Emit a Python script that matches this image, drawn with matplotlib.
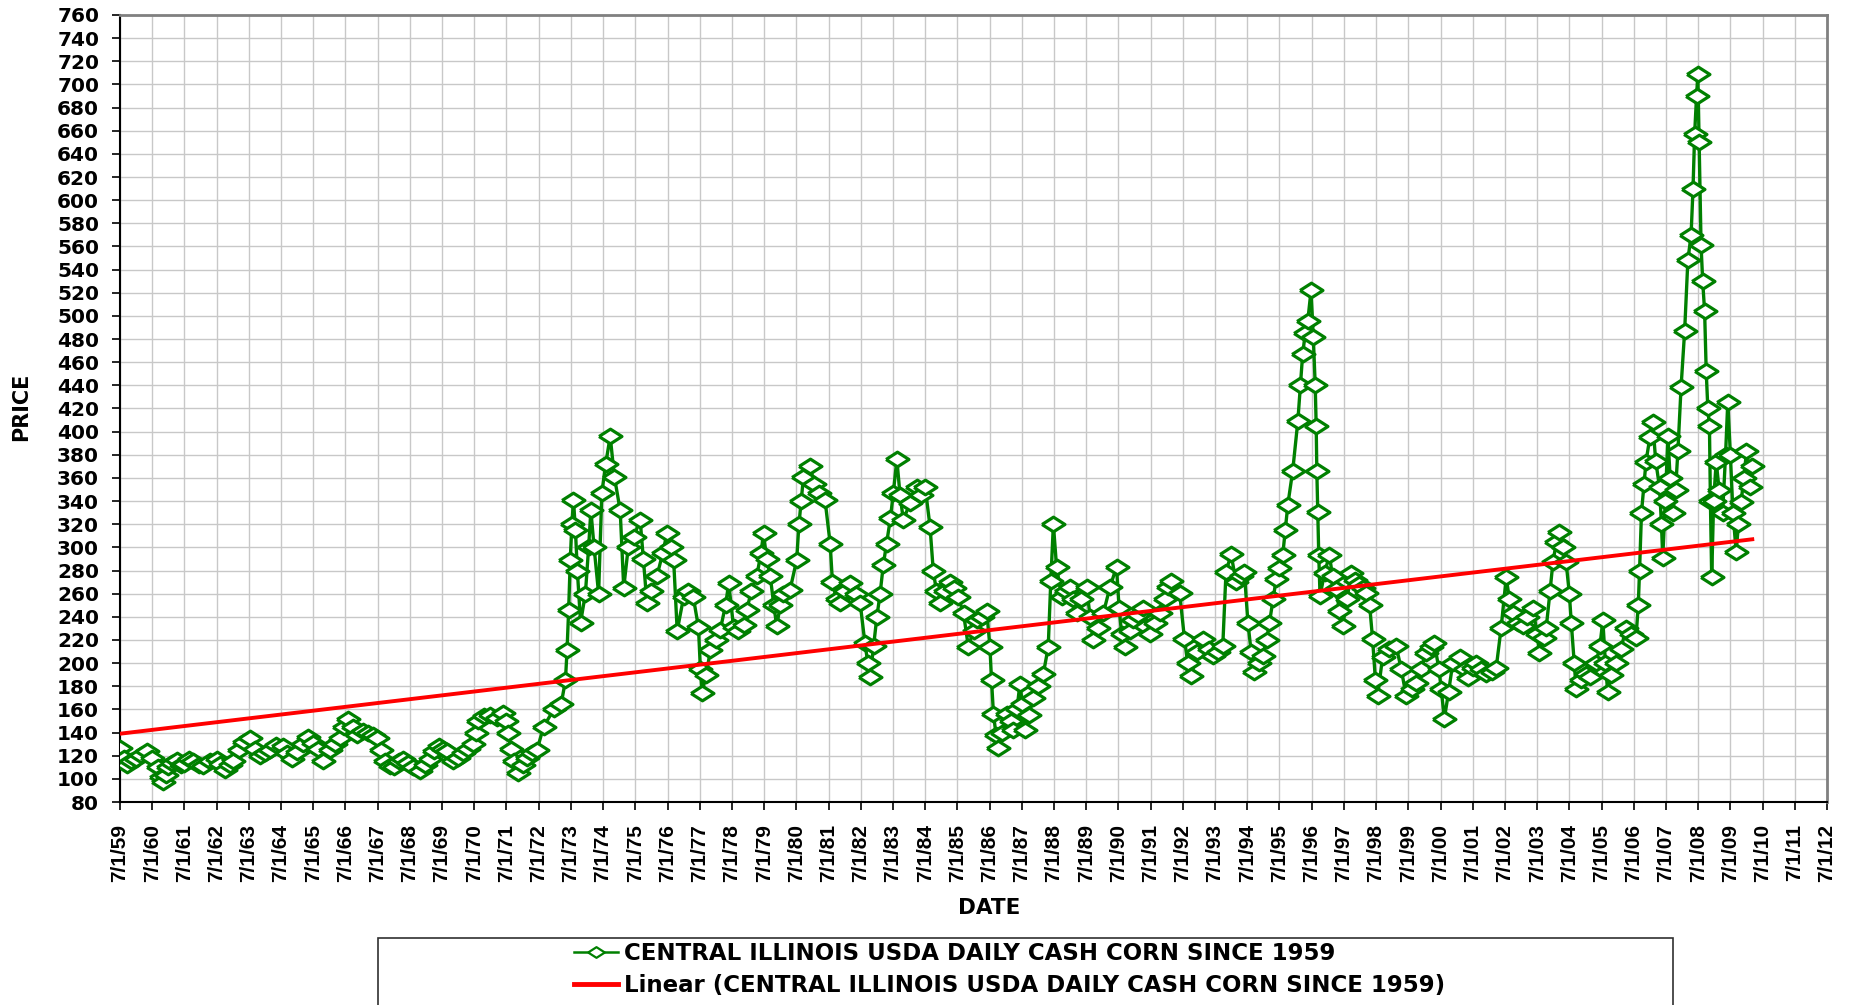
import numpy as np
import matplotlib
matplotlib.use("Agg")
import matplotlib.pyplot as plt
from matplotlib.lines import Line2D
from matplotlib.patches import Rectangle

# central illinois cash corn, cents/bu (decimal year, price)
date_years = [
    1959.50, 1959.62, 1959.71, 1959.85, 1960.00, 1960.15, 1960.33, 1960.50, 1960.69, 1960.78,
    1960.85, 1960.92, 1961.00, 1961.13, 1961.26, 1961.38, 1961.50, 1961.65, 1961.78, 1961.95,
    1962.09, 1962.30, 1962.50, 1962.62, 1962.76, 1962.90, 1963.02, 1963.20, 1963.35, 1963.54,
    1963.70, 1963.85, 1964.00, 1964.16, 1964.35, 1964.57, 1964.70, 1964.83, 1964.99, 1965.17,
    1965.35, 1965.50, 1965.66, 1965.81, 1966.02, 1966.18, 1966.33, 1966.45, 1966.58, 1966.72,
    1966.85, 1967.05, 1967.21, 1967.35, 1967.47, 1967.60, 1967.73, 1967.87, 1968.00, 1968.15,
    1968.30, 1968.45, 1968.61, 1968.82, 1968.97, 1969.13, 1969.26, 1969.39, 1969.52, 1969.64,
    1969.85, 1970.00, 1970.16, 1970.32, 1970.47, 1970.56, 1970.63, 1970.80, 1970.99, 1971.20,
    1971.40, 1971.50, 1971.56, 1971.64, 1971.72, 1971.87, 1972.00, 1972.13, 1972.30, 1972.45,
    1972.65, 1972.97, 1973.20, 1973.33, 1973.38, 1973.43, 1973.48, 1973.53, 1973.58, 1973.64,
    1973.70, 1973.80, 1973.95, 1974.05, 1974.12, 1974.22, 1974.36, 1974.46, 1974.58, 1974.72,
    1974.85, 1975.03, 1975.14, 1975.28, 1975.45, 1975.65, 1975.75, 1975.86, 1976.00, 1976.17,
    1976.35, 1976.48, 1976.60, 1976.69, 1976.80, 1977.00, 1977.15, 1977.30, 1977.46, 1977.52,
    1977.57, 1977.70, 1977.83, 1978.00, 1978.14, 1978.30, 1978.40, 1978.55, 1978.70, 1978.86,
    1978.96, 1979.10, 1979.27, 1979.40, 1979.48, 1979.58, 1979.69, 1979.80, 1979.89, 1980.00,
    1980.10, 1980.30, 1980.51, 1980.58, 1980.65, 1980.72, 1980.93, 1981.05, 1981.19, 1981.39,
    1981.55, 1981.62, 1981.75, 1981.86, 1982.00, 1982.17, 1982.35, 1982.48, 1982.63, 1982.72,
    1982.79, 1982.90, 1983.00, 1983.10, 1983.20, 1983.30, 1983.42, 1983.51, 1983.62, 1983.72,
    1983.82, 1984.03, 1984.24, 1984.38, 1984.50, 1984.65, 1984.75, 1984.85, 1984.96, 1985.10,
    1985.27, 1985.40, 1985.53, 1985.69, 1985.84, 1986.00, 1986.10, 1986.25, 1986.41, 1986.51,
    1986.56, 1986.62, 1986.70, 1986.77, 1986.90, 1987.03, 1987.15, 1987.24, 1987.35, 1987.44,
    1987.52, 1987.60, 1987.72, 1987.86, 1988.00, 1988.17, 1988.32, 1988.40, 1988.48, 1988.58,
    1988.74, 1988.87, 1989.00, 1989.10, 1989.20, 1989.35, 1989.51, 1989.62, 1989.72, 1989.87,
    1990.03, 1990.24, 1990.44, 1990.52, 1990.60, 1990.70, 1990.85, 1990.96, 1991.10, 1991.27,
    1991.48, 1991.65, 1991.79, 1991.95, 1992.05, 1992.14, 1992.40, 1992.55, 1992.65, 1992.76,
    1992.95, 1993.12, 1993.30, 1993.43, 1993.60, 1993.74, 1993.84, 1994.00, 1994.15, 1994.30,
    1994.41, 1994.52, 1994.62, 1994.72, 1994.85, 1994.98, 1995.10, 1995.19, 1995.30, 1995.40,
    1995.50, 1995.60, 1995.68, 1995.76, 1995.91, 1996.07, 1996.15, 1996.22, 1996.30, 1996.38,
    1996.48, 1996.55, 1996.61, 1996.64, 1996.66, 1996.69, 1996.72, 1996.76, 1996.90, 1997.05,
    1997.15, 1997.26, 1997.36, 1997.46, 1997.60, 1997.72, 1997.85, 1997.98, 1998.08, 1998.19,
    1998.30, 1998.39, 1998.48, 1998.55, 1998.70, 1998.90, 1999.12, 1999.28, 1999.43, 1999.60,
    1999.74, 1999.90, 2000.05, 2000.20, 2000.31, 2000.45, 2000.52, 2000.62, 2000.75, 2000.88,
    2001.09, 2001.25, 2001.35, 2001.50, 2001.60, 2001.75, 2001.92, 2002.10, 2002.23, 2002.38,
    2002.54, 2002.64, 2002.74, 2002.90, 2003.05, 2003.20, 2003.37, 2003.50, 2003.57, 2003.70,
    2003.78, 2003.90, 2003.99, 2004.10, 2004.19, 2004.30, 2004.40, 2004.50, 2004.56, 2004.65,
    2004.71, 2004.85, 2005.02, 2005.15, 2005.33, 2005.45, 2005.54, 2005.62, 2005.69, 2005.80,
    2005.95, 2006.10, 2006.26, 2006.40, 2006.57, 2006.64, 2006.68, 2006.74, 2006.82, 2006.88,
    2007.00, 2007.09, 2007.18, 2007.30, 2007.36, 2007.40, 2007.48, 2007.56, 2007.63, 2007.71,
    2007.80, 2007.87, 2007.97, 2008.08, 2008.18, 2008.28, 2008.34, 2008.39, 2008.45, 2008.49,
    2008.53, 2008.59, 2008.64, 2008.70, 2008.75, 2008.80, 2008.85, 2008.88, 2008.92, 2008.98,
    2009.06, 2009.15, 2009.26, 2009.35, 2009.42, 2009.50, 2009.58, 2009.68, 2009.75, 2009.83,
    2009.92, 2010.00, 2010.10, 2010.18,
]
cash_price = [
    127, 118, 112, 115, 117, 121, 124, 118, 110, 102,
    97, 103, 110, 114, 116, 112, 113, 117, 115, 112,
    111, 115, 117, 113, 108, 112, 115, 125, 132, 135,
    126, 120, 122, 125, 129, 128, 122, 117, 123, 130,
    136, 131, 126, 115, 125, 130, 135, 145, 152, 145,
    138, 141, 140, 138, 135, 125, 115, 111, 110, 115,
    117, 114, 110, 107, 112, 117, 124, 128, 126, 124,
    115, 118, 122, 126, 130, 140, 150, 154, 155, 153,
    157, 150, 140, 126, 115, 105, 112, 118, 122, 125,
    145, 160, 165, 185, 211, 246, 289, 320, 341, 315,
    280, 235, 260, 300, 332, 300, 260, 347, 372, 396,
    361, 332, 265, 300, 309, 324, 290, 252, 262, 275,
    295, 312, 300, 289, 228, 257, 262, 257, 231, 195,
    174, 190, 211, 220, 229, 250, 269, 231, 228, 233,
    246, 262, 275, 295, 312, 290, 275, 250, 232, 250,
    260, 263, 289, 320, 340, 361, 370, 355, 347, 341,
    303, 270, 255, 252, 262, 269, 260, 252, 217, 200,
    188, 215, 240, 260, 285, 303, 325, 347, 376, 345,
    324, 338, 352, 345, 352, 318, 280, 262, 252, 262,
    270, 265, 257, 243, 214, 228, 237, 240, 245, 214,
    185, 156, 138, 127, 140, 156, 150, 142, 160, 182,
    165, 142, 155, 170, 180, 191, 214, 271, 320, 283,
    257, 262, 266, 255, 243, 255, 266, 240, 220, 230,
    243, 266, 283, 248, 225, 214, 228, 237, 242, 248,
    225, 235, 243, 255, 266, 271, 261, 221, 200, 189,
    210, 221, 212, 206, 210, 215, 279, 294, 270, 275,
    279, 235, 210, 192, 200, 206, 220, 235, 255, 273,
    282, 293, 315, 337, 366, 409, 440, 467, 485, 496,
    522, 482, 440, 405, 366, 331, 293, 258, 278, 293,
    275, 264, 245, 232, 255, 278, 272, 268, 265, 261,
    250, 221, 185, 172, 205, 212, 215, 195, 172, 178,
    183, 195, 209, 214, 217, 195, 178, 152, 175, 200,
    205, 195, 187, 196, 200, 195, 191, 192, 196, 230,
    274, 255, 243, 235, 232, 240, 248, 225, 209, 222,
    230, 262, 287, 305, 313, 300, 287, 260, 235, 200,
    178, 185, 191, 188, 200, 215, 237, 200, 175, 190,
    200, 212, 230, 225, 222, 250, 280, 330, 355, 374,
    395, 408, 375, 352, 320, 291, 340, 396, 360, 330,
    350, 383, 439, 487, 548, 570, 610, 657, 690, 709,
    650, 561, 530, 504, 452, 420, 405, 340, 274, 340,
    374, 350, 330, 380, 426, 380, 330, 296, 320, 339,
    360, 383, 352, 370,
]

# excel linear trendline, value read at its two ends (first and last date)
trend_ends = [139, 307]

tick_years = list(range(1959, 2013))
series_label = "CENTRAL ILLINOIS USDA DAILY CASH CORN SINCE 1959"
trend_label = "Linear (CENTRAL ILLINOIS USDA DAILY CASH CORN SINCE 1959)"

GREEN = "#008000"
RED = "#ff0000"

x = np.array(date_years)
y = np.array(cash_price)
trend_x = [date_years[0], date_years[-1]]

# flat diamond like the excel marker
diamond = [(-1, 0), (0, 0.64), (1, 0), (0, -0.64), (-1, 0)]

fig = plt.figure(figsize=(18.51, 10.05), dpi=100)
ax = fig.add_axes([120 / 1851, 1 - 802 / 1005, 1707 / 1851, 787 / 1005])

ax.plot(x, y, color=GREEN, lw=2.4, marker=diamond, ms=16.5, mfc="white",
        mec=GREEN, mew=2.3, zorder=3)
ax.plot(trend_x, trend_ends, color=RED, lw=2.8, zorder=4)

ax.set_xlim(1959.5, 2012.5)
ax.set_ylim(80, 760)
ax.set_yticks(np.arange(80, 761, 20))
ax.set_xticks([yr + 0.5 for yr in tick_years])
ax.set_xticklabels([f"7/1/{yr % 100:02d}" for yr in tick_years], rotation=90,
                   fontfamily="Liberation Sans", fontweight="bold", fontsize=15)
for lab in ax.get_yticklabels():
    lab.set_fontweight("bold")
    lab.set_fontsize(14.5)

ax.grid(True, color="#c8c8c8", lw=1)
ax.set_axisbelow(True)
ax.tick_params(axis="both", direction="out", length=6, width=1.2, color="black")
ax.tick_params(axis="y", pad=9)
ax.tick_params(axis="x", pad=10)
for side in ["left", "bottom"]:
    ax.spines[side].set_color("black")
    ax.spines[side].set_linewidth(1.5)
for side in ["top", "right"]:
    ax.spines[side].set_color("#808080")
    ax.spines[side].set_linewidth(2)

fig.text(21 / 1851, 1 - 407 / 1005, "PRICE", rotation=90, ha="center", va="center",
         fontsize=15, fontweight="bold")
fig.text(989 / 1851, 1 - 908 / 1005, "DATE", ha="center", va="center",
         fontsize=15.5, fontweight="bold")

# legend box runs off the bottom of the figure
fig.patches.append(Rectangle((378 / 1851, -0.05), 1295 / 1851, 0.05 + 1 - 938 / 1005,
                             transform=fig.transFigure, fill=False, ec="#303030", lw=1.2))
handles = [
    Line2D([], [], color=GREEN, lw=1.8, marker=diamond, ms=12, mfc="white", mec=GREEN, mew=1.6),
    Line2D([], [], color=RED, lw=3.5),
]
fig.legend(handles, [series_label, trend_label], loc="upper left",
           bbox_to_anchor=(574 / 1851, 1 - 942 / 1005), frameon=False,
           prop={"weight": "bold", "size": 16.5}, handlelength=1.9, handletextpad=0.3,
           labelspacing=0.4, borderpad=0, borderaxespad=0)

fig.savefig("out.png", dpi=100)
